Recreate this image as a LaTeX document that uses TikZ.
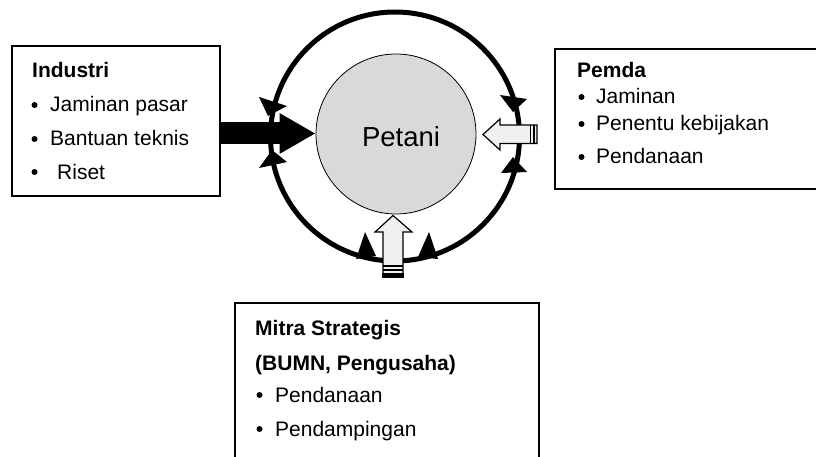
\documentclass[tikz,border=0pt]{standalone}
\usepackage{fontspec}
\setmainfont{Liberation Sans}
\usetikzlibrary{arrows.meta}
\begin{document}
\begin{tikzpicture}[x=1pt,y=-1pt,
  box/.style={draw=black, line width=1.6pt, inner sep=0pt, anchor=north west},
  txt/.style={anchor=base west, inner sep=0pt, font=\fontsize{21}{25}\selectfont},
  ttl/.style={anchor=base west, inner sep=0pt, font=\fontsize{21}{25}\selectfont\bfseries},
  wharrow/.style={draw=black, line width=1.2pt, fill=gray!12, line join=miter},
  band/.style={draw=black, line width=1.2pt},
  marker/.style={fill=black},
  dot/.style={fill=black}]
\clip (0,0) rectangle (816,457);
\fill[white] (0,0) rectangle (816,457);

% outer ring and centre
\node[draw, circle, line width=5pt, minimum size=249pt, inner sep=0pt] (ring) at (395,136.5) {};
\node[draw, circle, fill=gray!30, line width=0.8pt, minimum size=160pt, inner sep=0pt] (petani) at (396,134) {};
\node[inner sep=0pt, font=\fontsize{27.5}{30}\selectfont] (petanilabel) at (401,137) {Petani};

% markers on the ring
\fill[marker] (259,97) -- (287,106) -- (268,116) -- cycle;
\fill[marker] (272,150) -- (287,162) -- (259,168) -- cycle;
\fill[marker] (500,95) -- (527,99) -- (513,112) -- cycle;
\fill[marker] (513,157) -- (501,173) -- (527,172) -- cycle;
\fill[marker] (365,232) -- (356,259) -- (376,256) -- cycle;
\fill[marker] (429,232) -- (418,257) -- (438,259) -- cycle;

% boxes
\node[box, minimum width=208pt, minimum height=150pt] (ind) at (11,45) {};
\node[box, minimum width=280pt, minimum height=140pt] (pemda) at (554,48) {};
\node[box, minimum width=304pt, minimum height=180pt] (mitra) at (234,302) {};

% black arrow from Industri
\draw[line width=22pt, -{Triangle[length=36pt,width=38pt]}] (ind.east |- 0,133.5) -- (petani.west |- 0,133.5);

% white arrow from Pemda
\path[wharrow] (537,125) -- (500,125) -- (500,119) -- (483,134.5) -- (500,150) -- (500,143.5) -- (537,143.5) -- cycle;
\draw[band] (530.5,125) -- (530.5,143.5);
\draw[band] (534,125) -- (534,143.5);

% white arrow from Mitra
\path[wharrow] (383,277) -- (383,232) -- (375,232) -- (393,215.5) -- (412,232) -- (403,232) -- (403,277) -- cycle;
\draw[band] (383,266) -- (403,266);
\draw[band] (383,270) -- (403,270);
\fill[black] (382.4,273) rectangle (403.6,278);

% texts
\node[ttl] (indt) at (32,78) {Industri};
\node[txt] (ind1) at (50,112) {Jaminan pasar};
\node[txt] (ind2) at (50,146) {Bantuan teknis};
\node[txt] (ind3) at (57,179) {Riset};
\fill[dot] (34.5,105) circle (3);
\fill[dot] (34.5,139) circle (3);
\fill[dot] (34.5,172) circle (3);

\node[ttl] (pemdat) at (577,78) {Pemda};
\node[txt] (pem1) at (596,104) {Jaminan};
\node[txt] (pem2) at (596,131) {Penentu kebijakan};
\node[txt] (pem3) at (596,164) {Pendanaan};
\fill[dot] (581.5,97) circle (3);
\fill[dot] (581.5,124) circle (3);
\fill[dot] (581.5,157) circle (3);

\node[ttl] (mitrat) at (255,335) {Mitra Strategis};
\node[ttl] (mitrat2) at (255,370) {(BUMN, Pengusaha)};
\node[txt] (mit1) at (275,402) {Pendanaan};
\node[txt] (mit2) at (275,436) {Pendampingan};
\fill[dot] (259.5,395) circle (3);
\fill[dot] (259.5,429) circle (3);
\end{tikzpicture}
\end{document}
